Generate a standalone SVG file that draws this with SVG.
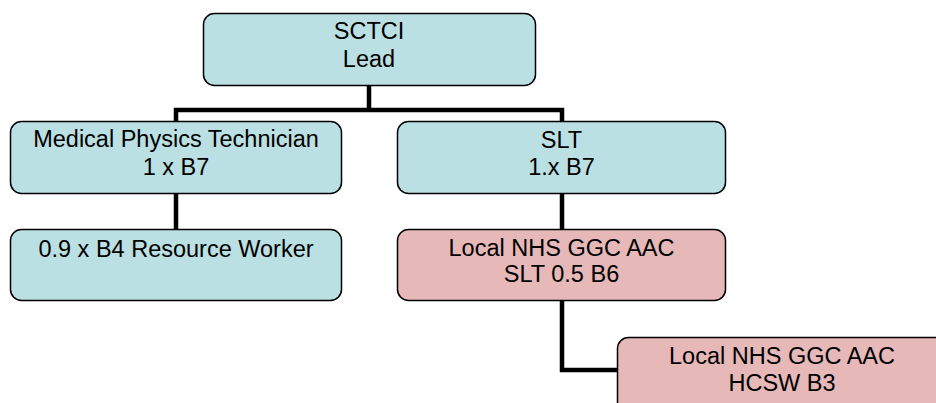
<svg xmlns="http://www.w3.org/2000/svg" width="936" height="403" viewBox="0 0 936 403">
<style>
.b{fill:#BAE0E3;stroke:#000;stroke-width:1.5}
.p{fill:#E6B8B8;stroke:#000;stroke-width:1.5}
text{font-family:"Liberation Sans",Arial,sans-serif;font-size:23.5px;fill:#000;text-anchor:middle}
.c{fill:none;stroke:#000;stroke-width:4.5}
</style>
<rect width="936" height="403" fill="#fff"/>
<g id="connectors">
<path class="c" d="M369 85V110M176 121V110H562V121"/>
<path class="c" d="M176 193V229"/>
<path class="c" d="M562 193V229"/>
<path class="c" d="M562 301V370H618"/>
</g>
<g id="lead"><rect class="b" x="203.5" y="13.5" width="332" height="72" rx="11"/><text x="369" y="39">SCTCI</text><text x="369" y="67">Lead</text></g>
<g id="mpt"><rect class="b" x="10.5" y="121.5" width="331" height="72" rx="11"/><text x="176" y="147">Medical Physics Technician</text><text x="176" y="175">1 x B7</text></g>
<g id="slt"><rect class="b" x="397.5" y="121.5" width="328" height="72" rx="11"/><text x="561.5" y="147.5">SLT</text><text x="561.5" y="174.5">1.x B7</text></g>
<g id="resource"><rect class="b" x="10.5" y="229.5" width="331" height="71" rx="11"/><text x="176" y="256.5">0.9 x B4 Resource Worker</text></g>
<g id="nhs-slt"><rect class="p" x="397.5" y="229.5" width="328" height="71" rx="11"/><text x="561.5" y="255.5">Local NHS GGC AAC</text><text x="561.5" y="282">SLT 0.5 B6</text></g>
<g id="nhs-hcsw"><rect class="p" x="617.5" y="337.5" width="330" height="80" rx="11"/><text x="782" y="364">Local NHS GGC AAC</text><text x="782" y="391">HCSW B3</text></g>
</svg>
